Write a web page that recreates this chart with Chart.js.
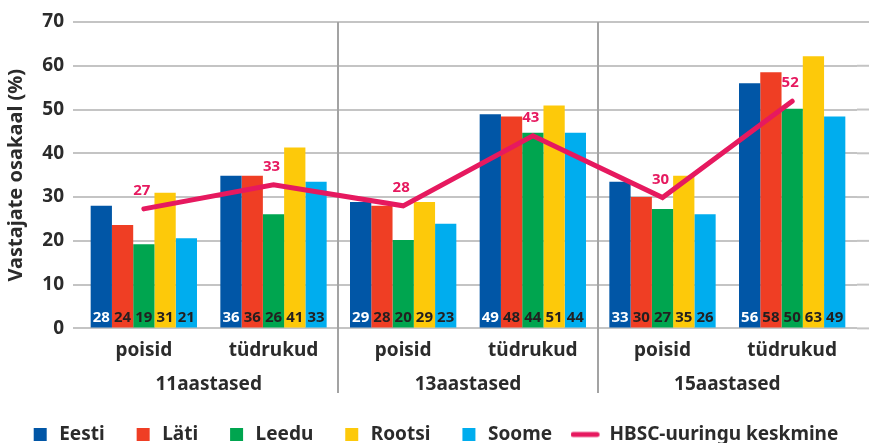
<!DOCTYPE html>
<html>
<head>
<meta charset="utf-8">
<script src="https://cdn.jsdelivr.net/npm/chart.js@4.4.1/dist/chart.umd.min.js"></script>
<style>
    html, body { margin: 0; padding: 0; background: #fff; }
    #wrap { width: 869px; height: 443px; }
</style>
</head>
<body>
<div id="wrap"><canvas id="myChart"></canvas></div>
<script>
// andmed
const categories = ['poisid', 'tüdrukud', 'poisid', 'tüdrukud', 'poisid', 'tüdrukud'];
const ageGroups = ['11aastased', '13aastased', '15aastased'];
const countries = ['Eesti', 'Läti', 'Leedu', 'Rootsi', 'Soome'];
const countryColors = ['#0156a6', '#ef3e24', '#00a54f', '#fdc90a', '#00adee'];

// tulpade kõrgused nagu joonisel
const eesti = [28.0, 34.9, 28.9, 48.9, 33.5, 56.0];
const lati = [23.6, 34.9, 28.0, 48.4, 30.0, 58.5];
const leedu = [19.2, 26.1, 20.2, 44.7, 27.3, 50.2];
const rootsi = [31.0, 41.3, 28.9, 50.9, 34.9, 62.2];
const soome = [20.6, 33.5, 23.9, 44.7, 26.1, 48.4];

// tulpade sildid (nagu joonisel kirjas)
const eestiLabels = ['28', '36', '29', '49', '33', '56'];
const latiLabels = ['24', '36', '28', '48', '30', '58'];
const leeduLabels = ['19', '26', '20', '44', '27', '50'];
const rootsiLabels = ['31', '41', '29', '51', '35', '63'];
const soomeLabels = ['21', '33', '23', '44', '26', '49'];

// HBSC keskmine
const hbsc = [27.3, 32.8, 28.0, 44.0, 29.9, 51.9];
const hbscLabels = ['27', '33', '28', '43', '30', '52'];

const yMin = 0, yMax = 70, yStep = 10;

const barValues = [eesti, lati, leedu, rootsi, soome];
const barLabels = [eestiLabels, latiLabels, leeduLabels, rootsiLabels, soomeLabels];

const FONT = "'Noto Sans', sans-serif";
const TEXT = '#2b2b2b';
const PINK = '#e6195f';
const GRID = '#c4c4c4';

Chart.defaults.font.family = FONT;

// legendi joone pilt
const lineImg = document.createElement('canvas');
lineImg.width = 40;
lineImg.height = 8;
(function () {
    const c = lineImg.getContext('2d');
    c.strokeStyle = PINK;
    c.lineWidth = 5;
    c.lineCap = 'round';
    c.beginPath();
    c.moveTo(2.5, 4);
    c.lineTo(26.5, 4);
    c.stroke();
})();

// sildid tulpade sees ja joone kohal
const valueLabels = {
    id: 'valueLabels',
    afterDatasetsDraw(chart) {
        const ctx = chart.ctx;
        const y0 = chart.scales.y.getPixelForValue(0);
        ctx.save();
        ctx.textAlign = 'center';
        ctx.textBaseline = 'middle';
        ctx.font = 'bold 15px ' + FONT;
        barLabels.forEach(function (labels, i) {
            const meta = chart.getDatasetMeta(i);
            meta.data.forEach(function (bar, j) {
                ctx.fillStyle = i === 0 ? '#ffffff' : '#231f20';
                ctx.fillText(labels[j], bar.x, y0 - 11);
            });
        });
        const lineMeta = chart.getDatasetMeta(5);
        ctx.fillStyle = PINK;
        lineMeta.data.forEach(function (pt, j) {
            ctx.fillText(hbscLabels[j], pt.x - 2, pt.y - 18);
        });
        ctx.restore();
    }
};

// vanuserühmade eraldusjooned ja ruudustiku pikendus paremale
const extras = {
    id: 'extras',
    beforeDatasetsDraw(chart) {
        const ctx = chart.ctx;
        const x = chart.scales.x;
        const y = chart.scales.y;
        const area = chart.chartArea;
        ctx.save();
        ctx.strokeStyle = GRID;
        ctx.lineWidth = 2;
        y.ticks.forEach(function (t) {
            const py = y.getPixelForValue(t.value);
            ctx.beginPath();
            ctx.moveTo(area.right, py);
            ctx.lineTo(chart.width, py);
            ctx.stroke();
        });
        ctx.strokeStyle = '#a3a3a3';
        [1.5, 3.5].forEach(function (v) {
            const px = Math.round(x.getPixelForValue(v));
            ctx.beginPath();
            ctx.moveTo(px, y.getPixelForValue(yMax));
            ctx.lineTo(px, 393);
            ctx.stroke();
        });
        ctx.restore();
    }
};

const datasets = barValues.map(function (vals, i) {
    return {
        type: 'bar',
        label: countries[i],
        data: vals,
        backgroundColor: countryColors[i],
        borderWidth: 0,
        categoryPercentage: 0.82,
        barPercentage: 1.0,
        order: 1
    };
});
datasets.push({
    type: 'line',
    label: 'HBSC-uuringu keskmine',
    data: hbsc,
    borderColor: PINK,
    backgroundColor: PINK,
    borderWidth: 5,
    borderCapStyle: 'round',
    borderJoinStyle: 'miter',
    pointRadius: 0,
    tension: 0,
    order: 0
});

const ctx = document.getElementById('myChart').getContext('2d');
window.myChart = new Chart(ctx, {
    data: { labels: categories, datasets: datasets },
    options: {
        responsive: true,
        maintainAspectRatio: false,
        animation: false,
        layout: { padding: { top: 22, right: 0, left: 0, bottom: -11 } },
        scales: {
            x: {
                grid: { display: false },
                border: { display: false },
                ticks: { color: TEXT, font: { size: 19, weight: 'bold' }, padding: 3 }
            },
            x2: {
                type: 'category',
                labels: ageGroups,
                position: 'bottom',
                offset: true,
                grid: { display: false },
                border: { display: false },
                ticks: { color: TEXT, font: { size: 19, weight: 'bold' }, padding: 0 }
            },
            y: {
                min: yMin,
                max: yMax,
                ticks: { stepSize: yStep, color: TEXT, font: { size: 19, weight: 'bold' }, padding: 9 },
                grid: { color: GRID, lineWidth: 2, tickLength: 6, tickColor: GRID },
                border: { display: false },
                title: {
                    display: true,
                    text: 'Vastajate osakaal (%)',
                    color: TEXT,
                    font: { size: 20, weight: 'bold' },
                    padding: { top: 4, bottom: 0 }
                },
                afterFit: function (scale) { scale.width = 79; }
            },
            yR: {
                position: 'right',
                ticks: { display: false },
                grid: { display: false, drawTicks: false },
                border: { display: false },
                afterFit: function (scale) { scale.width = 12; }
            }
        },
        plugins: {
            legend: {
                display: true,
                position: 'bottom',
                labels: {
                    usePointStyle: true,
                    boxHeight: 13,
                    color: TEXT,
                    font: { size: 19, weight: 'bold' },
                    padding: 29,
                    generateLabels: function (chart) {
                        return chart.data.datasets.map(function (ds, i) {
                            return {
                                text: ds.label,
                                fillStyle: ds.backgroundColor,
                                strokeStyle: ds.backgroundColor,
                                lineWidth: 0,
                                pointStyle: ds.type === 'line' ? lineImg : 'rect',
                                hidden: false,
                                datasetIndex: i,
                                fontColor: TEXT
                            };
                        });
                    }
                }
            },
            tooltip: { enabled: false }
        }
    },
    plugins: [extras, valueLabels]
});
</script>
</body>
</html>
